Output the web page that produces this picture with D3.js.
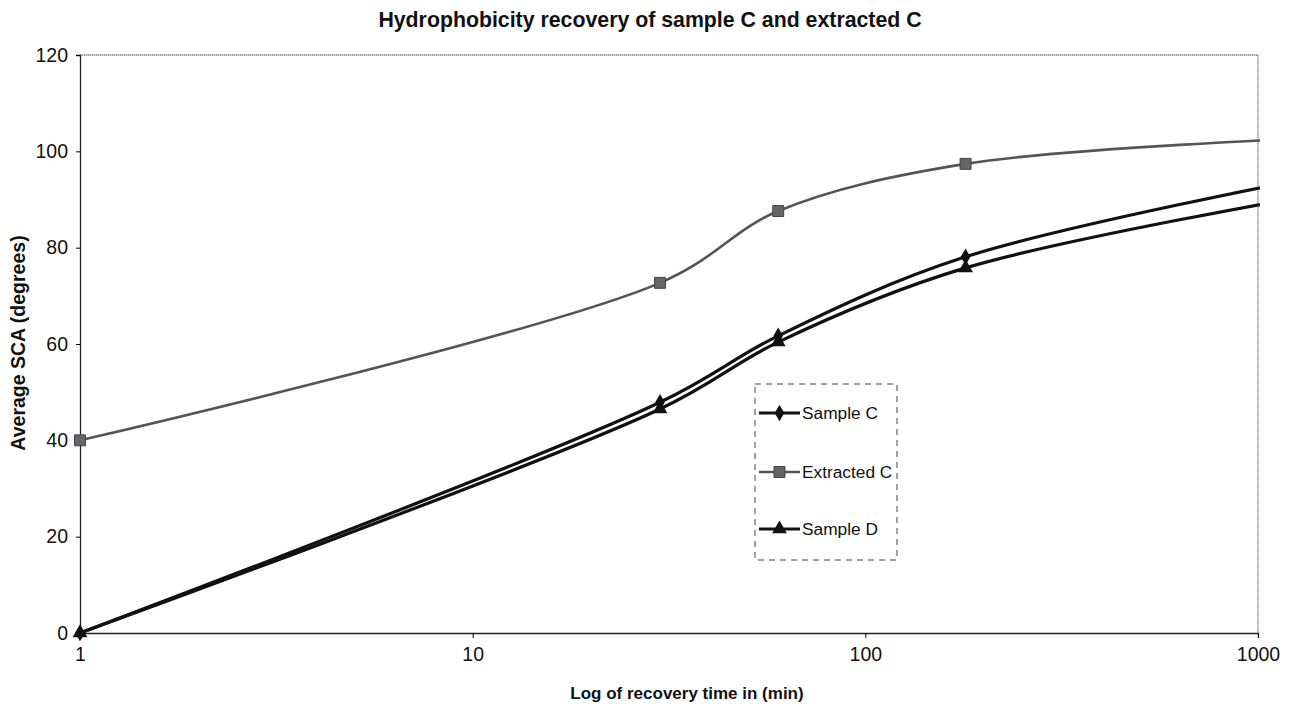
<!DOCTYPE html>
<html><head><meta charset="utf-8">
<script src="https://cdn.jsdelivr.net/npm/d3@7"></script>
<style>body{margin:0;background:#fff}svg{font-family:"Liberation Sans",Arial,sans-serif}</style>
</head><body>
<svg id="c" width="1298" height="709"></svg>
<script>
const times = [1, 30, 60, 180, 1440];
const sampleC = [0, 47.9, 61.7, 78.1, 94.9];
const extractedC = [40, 72.7, 87.6, 97.4, 102.8];
const sampleD = [0, 46.5, 60.4, 75.8, 91.2];
const yTicks = [0, 20, 40, 60, 80, 100, 120];
const xTicks = [1, 10, 100, 1000];
const seriesNames = ["Sample C", "Extracted C", "Sample D"];

const svg = d3.select("#c");
const L = 80, R = 1258, T = 55, B = 633;
const x = d3.scaleLog().domain([1, 1000]).range([L, R]);
const y = d3.scaleLinear().domain([0, 120]).range([B, T]);

svg.append("text").attr("x", 650).attr("y", 27).attr("text-anchor", "middle")
  .attr("font-weight", "bold").attr("font-size", 21.3).attr("fill", "#111").text("Hydrophobicity recovery of sample C and extracted C");

svg.append("path").attr("d", `M${L},${T}H${R}V${B}`).attr("fill", "none").attr("stroke", "#888").attr("stroke-width", 1.3).attr("stroke-dasharray", "1.5,0.5");

const ya = svg.append("g").attr("transform", `translate(${L},0)`)
  .call(d3.axisLeft(y).tickValues(yTicks).tickSize(4).tickPadding(8).tickFormat(d3.format("d")));
ya.select(".domain").attr("stroke", "#222").attr("stroke-width", 1.3);
ya.selectAll("text").attr("font-size", 19.5).attr("fill", "#111").attr("font-family", "Liberation Sans, Arial");

const xa = svg.append("g").attr("transform", `translate(0,${B})`)
  .call(d3.axisBottom(x).tickValues(xTicks).tickSize(5).tickPadding(9).tickFormat(d3.format("d")));
xa.select(".domain").attr("stroke", "#222").attr("stroke-width", 1.3);
xa.selectAll("text").attr("font-size", 19.5).attr("fill", "#111").attr("font-family", "Liberation Sans, Arial");

svg.append("text").attr("x", 687).attr("y", 699).attr("text-anchor", "middle")
  .attr("font-weight", "bold").attr("font-size", 17).attr("fill", "#111").text("Log of recovery time in (min)");
svg.append("text").attr("transform", "translate(25,343) rotate(-90)").attr("text-anchor", "middle")
  .attr("font-weight", "bold").attr("font-size", 19.5).attr("fill", "#111").text("Average SCA (degrees)");

svg.append("clipPath").attr("id", "clip").append("rect")
  .attr("x", L - 10).attr("y", T - 10).attr("width", R - L + 12).attr("height", B - T + 20);

const line = d3.line().x(d => x(d[0])).y(d => y(d[1])).curve(d3.curveCatmullRom.alpha(0.5));
const series = [
  {name: seriesNames[0], vals: sampleC, color: "#111", w: 3.2, marker: "diamond", mfill: "#111"},
  {name: seriesNames[1], vals: extractedC, color: "#555", w: 2.6, marker: "square", mfill: "#666"},
  {name: seriesNames[2], vals: sampleD, color: "#111", w: 3.2, marker: "triangle", mfill: "#111"}
];
const g = svg.append("g").attr("clip-path", "url(#clip)");
const sym = {diamond: d3.symbolDiamond, square: d3.symbolSquare, triangle: d3.symbolTriangle};
const size = {diamond: 80, square: 120, triangle: 95};
series.forEach(s => {
  const pts = times.map((t, i) => [t, s.vals[i]]);
  g.append("path").attr("d", line(pts)).attr("fill", "none").attr("stroke", s.color).attr("stroke-width", s.w);
});
series.forEach(s => {
  const pts = times.map((t, i) => [t, s.vals[i]]).filter(p => p[0] <= 1000);
  g.selectAll(null).data(pts).enter().append("path")
    .attr("transform", d => `translate(${x(d[0])},${y(d[1])})`)
    .attr("d", d3.symbol().type(sym[s.marker]).size(size[s.marker]))
    .attr("fill", s.mfill).attr("stroke", s.marker === "square" ? "#444" : "none").attr("stroke-width", 1);
});

const lg = svg.append("g");
lg.append("rect").attr("x", 755).attr("y", 384).attr("width", 142).attr("height", 176)
  .attr("fill", "#fff").attr("stroke", "#444").attr("stroke-width", 1).attr("stroke-dasharray", "6,5");
const ly = [413, 472, 529];
series.forEach((s, i) => {
  lg.append("line").attr("x1", 759).attr("x2", 800).attr("y1", ly[i]).attr("y2", ly[i])
    .attr("stroke", s.color).attr("stroke-width", s.w);
  lg.append("path").attr("transform", `translate(779.5,${ly[i]})`)
    .attr("d", d3.symbol().type(sym[s.marker]).size(size[s.marker]))
    .attr("fill", s.mfill).attr("stroke", s.marker === "square" ? "#444" : "none");
  lg.append("text").attr("x", 802).attr("y", ly[i] + 6).attr("font-size", 17.3).attr("fill", "#111").text(s.name);
});
</script>
</body></html>
